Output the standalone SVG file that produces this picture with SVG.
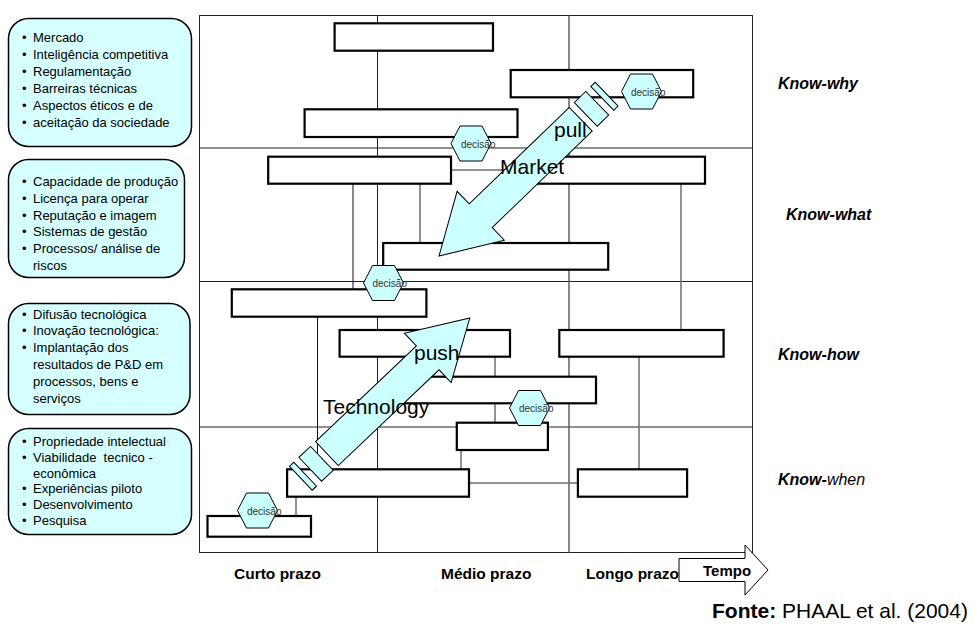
<svg xmlns="http://www.w3.org/2000/svg" xmlns:xlink="http://www.w3.org/1999/xlink" width="975" height="627" viewBox="0 0 975 627">
<style>
  text { font-family: "Liberation Sans", Arial, sans-serif; }
  .lbox { fill: #d6ffff; stroke: #000; stroke-width: 1.5; }
  .lt { font-size: 13px; fill: #000; }
  .grid { stroke: #222; stroke-width: 1; fill: none; }
  .grid2 { stroke: #555; stroke-width: 1.4; fill: none; }
  .con { stroke: #6e6e6e; stroke-width: 1.5; fill: none; }
  .conk { stroke: #111; stroke-width: 1; fill: none; }
  .box { fill: #fff; stroke: #000; stroke-width: 2.2; }
  .arr { fill: #ccffff; stroke: #000; stroke-width: 1; }
  .hex { fill: #ccffff; stroke: #000; stroke-width: 1; }
  .dec { font-size: 10px; fill: #333; }
  .big { font-size: 21px; fill: #000; }
  .know { font-size: 16px; font-weight: bold; font-style: italic; fill: #000; }
  .axis { font-size: 15.5px; font-weight: bold; fill: #000; }
</style>
<defs>
  <g id="stripedArrow">
    <rect class="arr" x="0" y="-16.5" width="6" height="33"/>
    <rect class="arr" x="13" y="-16.5" width="16" height="33"/>
    <path class="arr" d="M36,-16.5 H175 V-34 L233,0 L175,34 V16.5 H36 Z"/>
  </g>
  <polygon id="hexShape" class="hex" points="-20,0 -11,-17.5 11,-17.5 20,0 11,17.5 -11,17.5"/>
</defs>
<rect width="975" height="627" fill="#fff"/>

<!-- Left category boxes -->
<g id="cat-why">
  <rect class="lbox" x="8.5" y="18.5" width="183" height="128" rx="20"/>
  <g class="lt">
    <text x="22" y="41.5">•</text><text x="33" y="41.5">Mercado</text>
    <text x="22" y="58.5">•</text><text x="33" y="58.5">Inteligência competitiva</text>
    <text x="22" y="75.5">•</text><text x="33" y="75.5">Regulamentação</text>
    <text x="22" y="92.5">•</text><text x="33" y="92.5">Barreiras técnicas</text>
    <text x="22" y="109.5">•</text><text x="33" y="109.5">Aspectos éticos e de</text>
    <text x="22" y="126.5">•</text><text x="33" y="126.5">aceitação da sociedade</text>
  </g>
</g>
<g id="cat-what">
  <rect class="lbox" x="8.5" y="159.5" width="176" height="118" rx="20"/>
  <g class="lt">
    <text x="22" y="186">•</text><text x="33" y="186">Capacidade de produção</text>
    <text x="22" y="202.8">•</text><text x="33" y="202.8">Licença para operar</text>
    <text x="22" y="219.6">•</text><text x="33" y="219.6">Reputação e imagem</text>
    <text x="22" y="236.4">•</text><text x="33" y="236.4">Sistemas de gestão</text>
    <text x="22" y="253.2">•</text><text x="33" y="253.2">Processos/ análise de</text>
    <text x="33" y="270">riscos</text>
  </g>
</g>
<g id="cat-how">
  <rect class="lbox" x="8.5" y="303.5" width="181.5" height="111" rx="20"/>
  <g class="lt">
    <text x="22" y="318.5">•</text><text x="33" y="318.5">Difusão tecnológica</text>
    <text x="22" y="335.3">•</text><text x="33" y="335.3">Inovação tecnológica:</text>
    <text x="22" y="352.1">•</text><text x="33" y="352.1">Implantação dos</text>
    <text x="33" y="368.9">resultados de P&amp;D em</text>
    <text x="33" y="385.7">processos, bens e</text>
    <text x="33" y="402.5">serviços</text>
  </g>
</g>
<g id="cat-when">
  <rect class="lbox" x="8.5" y="428.5" width="183" height="106" rx="20"/>
  <g class="lt">
    <text x="22" y="446">•</text><text x="33" y="446">Propriedade intelectual</text>
    <text x="22" y="461.8">•</text><text x="33" y="461.8">Viabilidade&#160; tecnico -</text>
    <text x="33" y="477.6">econômica</text>
    <text x="22" y="493.4">•</text><text x="33" y="493.4">Experiências piloto</text>
    <text x="22" y="509.2">•</text><text x="33" y="509.2">Desenvolvimento</text>
    <text x="22" y="525">•</text><text x="33" y="525">Pesquisa</text>
  </g>
</g>

<!-- Grid frame -->
<g id="grid">
  <rect class="grid" x="199.5" y="15.5" width="553" height="537"/>
  <line class="grid" x1="199.5" y1="148" x2="752.5" y2="148"/>
  <line class="grid" x1="199.5" y1="281.5" x2="752.5" y2="281.5"/>
  <line class="grid" x1="199.5" y1="427" x2="752.5" y2="427"/>
  <line class="grid" x1="377.5" y1="15.5" x2="377.5" y2="552.5"/>
  <line class="grid2" x1="569" y1="15.5" x2="569" y2="552.5"/>
</g>

<!-- Connectors -->
<g id="connectors">
  <line class="conk" x1="353" y1="184" x2="353" y2="289"/>
  <line class="con" x1="420" y1="184" x2="420" y2="243"/>
  <line class="con" x1="451" y1="170" x2="525" y2="170"/>
  <line class="con" x1="681" y1="184" x2="681" y2="330"/>
  <line class="conk" x1="317.5" y1="317" x2="317.5" y2="469"/>
  <line class="con" x1="495" y1="357" x2="495" y2="423"/>
  <line class="con" x1="639" y1="357" x2="639" y2="469"/>
  <line class="con" x1="461" y1="450" x2="461" y2="469"/>
  <line class="con" x1="469" y1="483" x2="578" y2="483"/>
  <line class="con" x1="296" y1="497" x2="296" y2="516"/>
</g>

<!-- Roadmap bars -->
<g id="bar-1"><rect class="box" x="334.6" y="23.3" width="158.4" height="27.4"/></g>
<g id="bar-2"><rect class="box" x="510.7" y="70" width="182.5" height="27.3"/></g>
<g id="bar-3"><rect class="box" x="304.6" y="109.3" width="212.9" height="27.7"/></g>
<g id="bar-4"><rect class="box" x="268.2" y="156.7" width="182.8" height="27"/></g>
<g id="bar-5"><rect class="box" x="525" y="156.7" width="180" height="27"/></g>
<g id="bar-6"><rect class="box" x="383.2" y="243" width="225" height="26.7"/></g>
<g id="bar-7"><rect class="box" x="231.8" y="289.3" width="194.6" height="27.4"/></g>
<g id="bar-8"><rect class="box" x="339.6" y="330" width="170.4" height="26.7"/></g>
<g id="bar-9"><rect class="box" x="559.3" y="330" width="164.3" height="26.7"/></g>
<g id="bar-10"><rect class="box" x="392" y="376.7" width="204" height="26.6"/></g>
<g id="bar-11"><rect class="box" x="456.8" y="422.7" width="91.1" height="27.3"/></g>
<g id="bar-12"><rect class="box" x="287.1" y="469.3" width="181.9" height="27.4"/></g>
<g id="bar-13"><rect class="box" x="577.9" y="469.3" width="109.2" height="27.4"/></g>
<g id="bar-14"><rect class="box" x="207.5" y="516" width="103.5" height="20.7"/></g>

<!-- Big arrows -->
<g id="market-pull">
  <use xlink:href="#stripedArrow" href="#stripedArrow" transform="translate(606.6,94.2) rotate(136)"/>
</g>
<g id="technology-push">
  <use xlink:href="#stripedArrow" href="#stripedArrow" transform="translate(300.8,478.3) rotate(-43.5)"/>
</g>

<!-- Decision hexagons -->
<g id="dec-1"><use xlink:href="#hexShape" href="#hexShape" transform="translate(471,143.5)"/><text class="dec" x="461" y="147.5">decisão</text></g>
<g id="dec-2"><use xlink:href="#hexShape" href="#hexShape" transform="translate(641.5,91.5)"/><text class="dec" x="631" y="95.5">decisão</text></g>
<g id="dec-3"><use xlink:href="#hexShape" href="#hexShape" transform="translate(383.5,283)"/><text class="dec" x="372.5" y="287">decisão</text></g>
<g id="dec-4"><use xlink:href="#hexShape" href="#hexShape" transform="translate(529.5,408)"/><text class="dec" x="519" y="412">decisão</text></g>
<g id="dec-5"><use xlink:href="#hexShape" href="#hexShape" transform="translate(257.5,510.5)"/><text class="dec" x="247" y="514.5">decisão</text></g>

<!-- Arrow labels -->
<text class="big" x="554" y="137">pull</text>
<text class="big" x="500" y="174">Market</text>
<text class="big" x="414" y="360">push</text>
<text class="big" x="323" y="414">Technology</text>

<!-- Right labels -->
<text class="know" x="778" y="89">Know-why</text>
<text class="know" x="786" y="220">Know-what</text>
<text class="know" x="778" y="360">Know-how</text>
<text class="know" x="778" y="485">Know-<tspan font-weight="normal">when</tspan></text>

<!-- Time axis -->
<text class="axis" x="234" y="579">Curto prazo</text>
<text class="axis" x="441" y="579">Médio prazo</text>
<text class="axis" x="586" y="579">Longo prazo</text>
<g id="tempo">
  <path d="M679,558.5 H745 V545 L768,570 L745,595 V581.5 H679 Z" fill="#fff" stroke="#000" stroke-width="1"/>
  <text x="703" y="576" style="font-size:15px;font-weight:bold">Tempo</text>
</g>

<text x="712" y="618" style="font-size:21px"><tspan font-weight="bold">Fonte:</tspan> PHAAL et al. (2004)</text>
</svg>
